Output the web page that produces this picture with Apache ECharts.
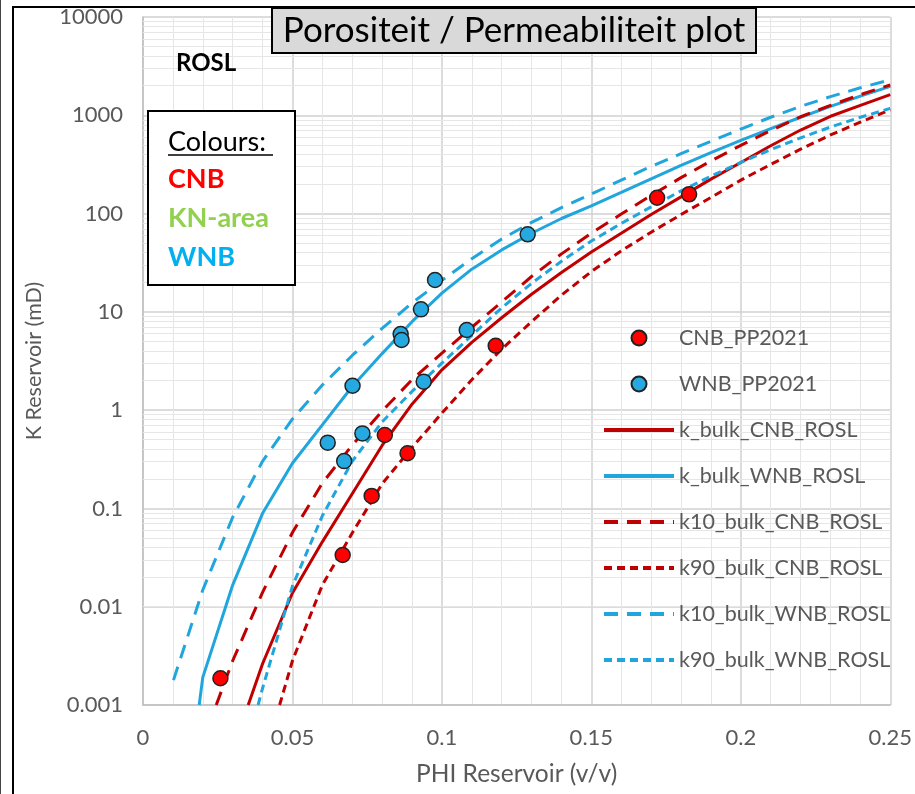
<!DOCTYPE html>
<html>
<head>
<meta charset="utf-8">
<script src="https://cdn.jsdelivr.net/npm/echarts@6/dist/echarts.min.js"></script>
<style>
html, body { margin: 0; padding: 0; background: #fff; }
#chart { width: 915px; height: 794px; }
</style>
</head>
<body>
<div id="chart"></div>
<script>
'use strict';

// 坐标轴刻度
var xTickLabels = ['0', '0.05', '0.1', '0.15', '0.2', '0.25'];
var yTicks = [0.001, 0.01, 0.1, 1, 10, 100, 1000, 10000];
var yTickLabels = ['0.001', '0.01', '0.1', '1', '10', '100', '1000', '10000'];

// 测量点
var cnbPhi = [0.0259, 0.0668, 0.0765, 0.0809, 0.0885, 0.118, 0.172, 0.1827];
var cnbK = [0.00187, 0.0336, 0.134, 0.559, 0.364, 4.52, 145, 157];
var wnbPhi = [0.0618, 0.0673, 0.0734, 0.0701, 0.0939, 0.0862, 0.0865, 0.093, 0.1083, 0.0977, 0.1287];
var wnbK = [0.467, 0.303, 0.58, 1.77, 1.95, 5.95, 5.17, 10.6, 6.54, 21.1, 61.5];

// 曲线
var kBulkCnbPhi = [0.0352, 0.04, 0.05, 0.06, 0.07, 0.08, 0.09, 0.10, 0.11, 0.12, 0.13, 0.14, 0.15, 0.16, 0.17, 0.18, 0.19, 0.20, 0.21, 0.22, 0.23, 0.24, 0.25];
var kBulkCnbK = [0.001, 0.00263, 0.0138, 0.0457, 0.141, 0.437, 1.15, 2.57, 4.90, 8.71, 15.1, 25.1, 40.7, 63.1, 97.7, 148, 224, 331, 490, 708, 977, 1259, 1622];

var kBulkWnbPhi = [0.0188, 0.02, 0.03, 0.04, 0.05, 0.06, 0.07, 0.08, 0.09, 0.10, 0.11, 0.12, 0.13, 0.14, 0.15, 0.16, 0.17, 0.18, 0.19, 0.20, 0.21, 0.22, 0.23, 0.24, 0.25];
var kBulkWnbK = [0.001, 0.00191, 0.0166, 0.0891, 0.288, 0.708, 1.74, 3.76, 7.94, 15.5, 27.2, 42.7, 63.1, 89.1, 120, 164, 226, 309, 417, 556, 733, 955, 1230, 1567, 1972];

var k10CnbPhi = [0.0245, 0.03, 0.04, 0.05, 0.06, 0.07, 0.08, 0.09, 0.10, 0.11, 0.12, 0.13, 0.14, 0.15, 0.16, 0.17, 0.18, 0.19, 0.20, 0.21, 0.22, 0.23, 0.24, 0.25];
var k10CnbK = [0.001, 0.00282, 0.0140, 0.0569, 0.181, 0.440, 0.977, 2.04, 3.80, 6.97, 12.6, 22.9, 38.9, 63.1, 98.9, 153, 232, 343, 495, 700, 966, 1259, 1622, 2042];

var k90CnbPhi = [0.0457, 0.05, 0.06, 0.07, 0.08, 0.09, 0.10, 0.11, 0.12, 0.13, 0.14, 0.15, 0.16, 0.17, 0.18, 0.19, 0.20, 0.21, 0.22, 0.23, 0.24, 0.25];
var k90CnbK = [0.001, 0.00282, 0.0166, 0.0562, 0.178, 0.417, 0.933, 2.04, 4.17, 7.94, 14.8, 25.7, 41.7, 64.6, 97.7, 146, 219, 316, 452, 631, 851, 1135];

var k10WnbPhi = [0.0102, 0.02, 0.03, 0.04, 0.05, 0.06, 0.07, 0.08, 0.09, 0.10, 0.11, 0.12, 0.13, 0.14, 0.15, 0.16, 0.17, 0.18, 0.19, 0.20, 0.21, 0.22, 0.23, 0.24, 0.25];
var k10WnbK = [0.00179, 0.0148, 0.0813, 0.302, 0.813, 1.80, 3.60, 6.79, 12.3, 20.9, 34.7, 55.0, 81.3, 115, 158, 219, 302, 407, 543, 724, 955, 1230, 1549, 1905, 2291];

var k90WnbPhi = [0.0385, 0.04, 0.05, 0.06, 0.07, 0.08, 0.09, 0.10, 0.11, 0.12, 0.13, 0.14, 0.15, 0.16, 0.17, 0.18, 0.19, 0.20, 0.21, 0.22, 0.23, 0.24, 0.25];
var k90WnbK = [0.001, 0.00148, 0.0162, 0.0841, 0.302, 0.759, 1.55, 3.01, 5.75, 11.0, 19.5, 32.7, 52.5, 79.4, 117, 170, 240, 331, 447, 589, 759, 955, 1175];

var RED = '#C00000';
var BLUE = '#20A5DC';
var FONT = 'Lato, "Liberation Sans", sans-serif';
var GREY_TEXT = '#595959';

function pairs(xs, ys) {
    return xs.map(function (x, i) { return [x, ys[i]]; });
}

// 对数坐标的次网格线 (2..9)
var minorY = [];
for (var e = -3; e < 4; e++) {
    for (var m = 2; m < 10; m++) {
        minorY.push({yAxis: Number((m * Math.pow(10, e)).toPrecision(3))});
    }
}

function lineSeries(name, xs, ys, color, dash) {
    return {
        name: name,
        type: 'line',
        data: pairs(xs, ys),
        symbol: 'none',
        z: 3,
        lineStyle: {color: color, width: 3, type: dash || 'solid'},
        itemStyle: {color: color}
    };
}

function scatterSeries(name, xs, ys, color) {
    return {
        name: name,
        type: 'scatter',
        data: pairs(xs, ys),
        symbol: 'circle',
        symbolSize: 15,
        z: 5,
        itemStyle: {color: color, borderColor: '#222', borderWidth: 1.5, opacity: 1}
    };
}

// 图例：线条不显示圆点
function lineLegend(name) {
    return {name: name, itemStyle: {opacity: 0}};
}

var chart = echarts.init(document.getElementById('chart'));

chart.setOption({
    animation: false,
    grid: {left: 143, top: 17, right: 12, bottom: 89},
    xAxis: {
        type: 'value',
        min: 0,
        max: 0.25,
        interval: 0.05,
        name: 'PHI Reservoir (v/v)',
        nameLocation: 'middle',
        nameGap: 57,
        nameTextStyle: {fontFamily: FONT, fontSize: 24.5, color: GREY_TEXT},
        axisLine: {show: true, lineStyle: {color: '#bfbfbf', width: 1.5}},
        axisTick: {show: false},
        axisLabel: {
            margin: 22,
            fontFamily: FONT, fontSize: 22, color: GREY_TEXT,
            formatter: function (v) { return xTickLabels[Math.round(v / 0.05)]; }
        },
        splitLine: {show: true, lineStyle: {color: '#d0d0d0', width: 1.5}},
        minorTick: {show: false, splitNumber: 5},
        minorSplitLine: {show: true, lineStyle: {color: '#e6e6e6', width: 1}}
    },
    yAxis: {
        type: 'log',
        logBase: 10,
        min: 0.001,
        max: 10000,
        interval: 1,
        splitNumber: 7,
        name: 'K Reservoir (mD)',
        nameLocation: 'middle',
        nameGap: 98,
        nameRotate: 90,
        nameTextStyle: {fontFamily: FONT, fontSize: 21.5, color: GREY_TEXT},
        axisLine: {show: true, lineStyle: {color: '#bfbfbf', width: 1.5}},
        axisTick: {show: false},
        axisLabel: {
            margin: 20,
            fontFamily: FONT, fontSize: 22, color: GREY_TEXT,
            formatter: function (v) {
                var lv = Math.log(v) / Math.LN10;
                for (var i = 0; i < yTicks.length; i++) {
                    if (Math.abs(lv - Math.log(yTicks[i]) / Math.LN10) < 1e-6) return yTickLabels[i];
                }
                return '';
            }
        },
        splitLine: {show: true, lineStyle: {color: '#d0d0d0', width: 1.5}}
    },
    legend: {
        orient: 'vertical',
        left: 602,
        top: 327,
        padding: 0,
        itemWidth: 70,
        itemHeight: 15,
        itemGap: 24,
        lineStyle: {width: 4},
        textStyle: {fontFamily: FONT, fontSize: 21.5, color: GREY_TEXT, lineHeight: 20},
        data: ['CNB_PP2021', 'WNB_PP2021', lineLegend('k_bulk_CNB_ROSL'), lineLegend('k_bulk_WNB_ROSL'),
            lineLegend('k10_bulk_CNB_ROSL'), lineLegend('k90_bulk_CNB_ROSL'),
            lineLegend('k10_bulk_WNB_ROSL'), lineLegend('k90_bulk_WNB_ROSL')]
    },
    series: [
        {
            name: 'minor-grid',
            type: 'line',
            data: [],
            silent: true,
            markLine: {
                silent: true,
                z: 1,
                symbol: 'none',
                label: {show: false},
                lineStyle: {color: '#e6e6e6', width: 1, type: 'solid'},
                emphasis: {disabled: true},
                data: minorY
            }
        },
        scatterSeries('CNB_PP2021', cnbPhi, cnbK, '#FF0000'),
        scatterSeries('WNB_PP2021', wnbPhi, wnbK, '#26A8E0'),
        lineSeries('k_bulk_CNB_ROSL', kBulkCnbPhi, kBulkCnbK, RED),
        lineSeries('k_bulk_WNB_ROSL', kBulkWnbPhi, kBulkWnbK, BLUE),
        lineSeries('k10_bulk_CNB_ROSL', k10CnbPhi, k10CnbK, RED, [14, 9]),
        lineSeries('k90_bulk_CNB_ROSL', k90CnbPhi, k90CnbK, RED, [8, 5]),
        lineSeries('k10_bulk_WNB_ROSL', k10WnbPhi, k10WnbK, BLUE, [14, 9]),
        lineSeries('k90_bulk_WNB_ROSL', k90WnbPhi, k90WnbK, BLUE, [8, 5])
    ],
    graphic: [
        // 外框
        {type: 'line', shape: {x1: 0.5, y1: 0, x2: 0.5, y2: 794}, style: {stroke: '#444', lineWidth: 1}},
        {type: 'line', shape: {x1: 13, y1: 7, x2: 13, y2: 794}, style: {stroke: '#000', lineWidth: 2}},
        {type: 'line', shape: {x1: 12, y1: 7, x2: 915, y2: 7}, style: {stroke: '#000', lineWidth: 2}},
        // 标题
        {type: 'rect', shape: {x: 272, y: 8, width: 484, height: 45}, style: {fill: '#d9d9d9', stroke: '#000', lineWidth: 2}, z: 10},
        {type: 'text', x: 514, y: 31, z: 11, style: {text: 'Porositeit / Permeabiliteit plot', font: '35px ' + FONT, fill: '#000', textAlign: 'center', textVerticalAlign: 'middle'}},
        {type: 'text', x: 176, y: 63, z: 11, style: {text: 'ROSL', font: 'bold 24px ' + FONT, fill: '#000', textAlign: 'left', textVerticalAlign: 'middle'}},
        // 颜色说明
        {type: 'rect', shape: {x: 148, y: 111, width: 147, height: 174}, style: {fill: '#fff', stroke: '#000', lineWidth: 2}, z: 10},
        {type: 'text', x: 168, y: 142, z: 11, style: {text: 'Colours:', font: '27px ' + FONT, fill: '#000', textAlign: 'left', textVerticalAlign: 'middle'}},
        {type: 'line', z: 11, shape: {x1: 168, y1: 155, x2: 273, y2: 155}, style: {stroke: '#000', lineWidth: 1.5}},
        {type: 'text', x: 168, y: 179, z: 11, style: {text: 'CNB', font: 'bold 27px ' + FONT, fill: '#FF0000', textAlign: 'left', textVerticalAlign: 'middle'}},
        {type: 'text', x: 168, y: 218, z: 11, style: {text: 'KN-area', font: 'bold 27px ' + FONT, fill: '#92D050', textAlign: 'left', textVerticalAlign: 'middle'}},
        {type: 'text', x: 168, y: 257, z: 11, style: {text: 'WNB', font: 'bold 27px ' + FONT, fill: '#00B0F0', textAlign: 'left', textVerticalAlign: 'middle'}}
    ]
});
</script>
</body>
</html>
